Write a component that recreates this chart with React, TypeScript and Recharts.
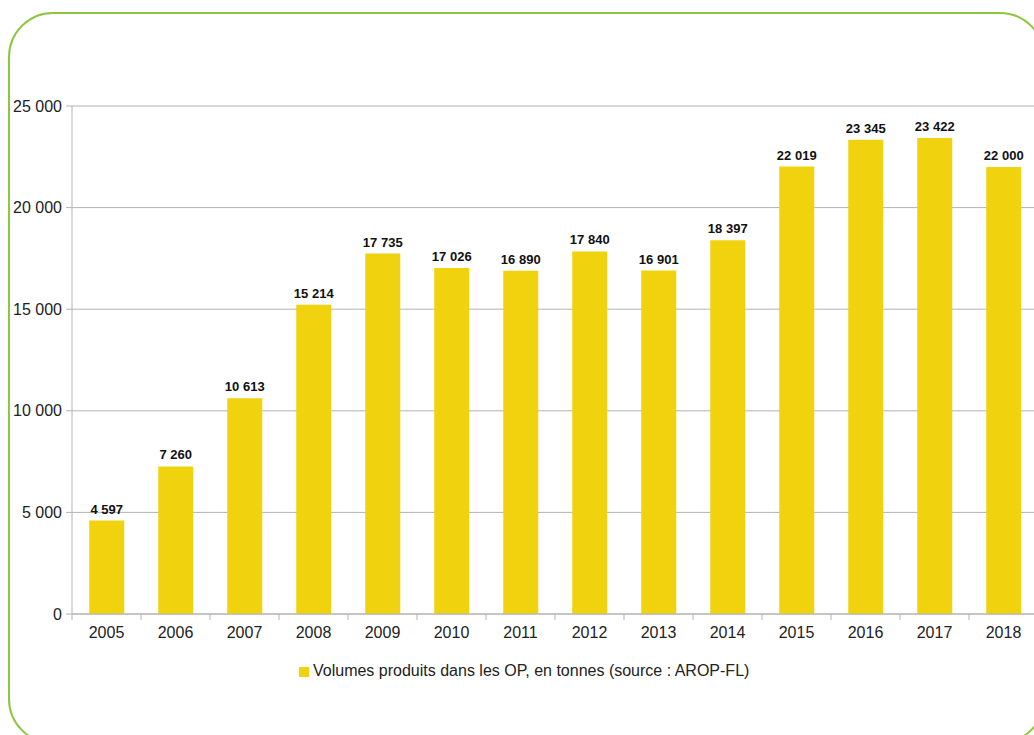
import React from "react";
import { BarChart, Bar, XAxis, YAxis, CartesianGrid, Legend, LabelList } from "recharts";

const years = ["2005", "2006", "2007", "2008", "2009", "2010", "2011", "2012", "2013", "2014", "2015", "2016", "2017", "2018"];
const volumes = [4597, 7260, 10613, 15214, 17735, 17026, 16890, 17840, 16901, 18397, 22019, 23345, 23422, 22000];
const yTicks = [0, 5000, 10000, 15000, 20000, 25000];

const SERIES = "Volumes produits dans les OP, en tonnes (source : AROP-FL)";
const data = years.map((y, i) => ({ year: y, value: volumes[i] }));

const fmt = (v: number) => String(v).replace(/\B(?=(\d{3})+(?!\d))/g, " ");
// no-break space so the label is not wrapped to the bar width
const fmtLabel = (v: number) => String(v).replace(/\B(?=(\d{3})+(?!\d))/g, "\u00a0");

const BAND = 69;

// category ticks sit between the bands, labels in the middle
function YearTick(props: any) {
  const { x, y, payload } = props;
  return (
    <g>
      <line x1={x - BAND / 2} y1={y - 8} x2={x - BAND / 2} y2={y - 2} stroke="#b3b3b3" />
      <text x={x} y={y + 16} textAnchor="middle" fontSize={16} fill="#222">
        {payload.value}
      </text>
    </g>
  );
}

export default function App() {
  return (
    <div
      style={{
        position: "fixed",
        left: 0,
        top: 0,
        width: 1034,
        height: 735,
        overflow: "hidden",
        background: "#fff",
        fontFamily: "'Liberation Sans', Arial, sans-serif",
      }}
    >
      <div
        style={{
          position: "absolute",
          left: 8,
          top: 12,
          width: 1033,
          height: 728,
          border: "2px solid #8dc63f",
          borderRadius: 45,
        }}
      />
      <div style={{ position: "absolute", left: 0, top: 0 }}>
        <BarChart
          width={1050}
          height={735}
          data={data}
          margin={{ top: 106, right: 12, left: 0, bottom: 91 }}
          barCategoryGap="25%"
        >
          <CartesianGrid vertical={false} stroke="#b3b3b3" />
          <XAxis
            dataKey="year"
            height={30}
            stroke="#b3b3b3"
            tickLine={false}
            tick={<YearTick />}
            interval={0}
          />
          <YAxis
            width={72}
            domain={[0, 25000]}
            ticks={yTicks}
            tickFormatter={fmt}
            stroke="#b3b3b3"
            tickSize={6}
            tickMargin={4}
            tick={{ fill: "#222", fontSize: 16 }}
          />
          <Legend
            verticalAlign="bottom"
            iconType="square"
            iconSize={10}
            formatter={(v: string) => <span style={{ color: "#222" }}>{v}</span>}
            wrapperStyle={{ left: 299, top: 661, height: 0, width: "auto", fontSize: 16, lineHeight: "20px" }}
          />
          <Bar dataKey="value" name={SERIES} fill="#f0d20f" isAnimationActive={false}>
            <LabelList
              dataKey="value"
              position="top"
              offset={7}
              formatter={(v: any) => fmtLabel(v)}
              style={{ fontSize: 13, fontWeight: "bold", fill: "#111" }}
            />
          </Bar>
        </BarChart>
      </div>
    </div>
  );
}
